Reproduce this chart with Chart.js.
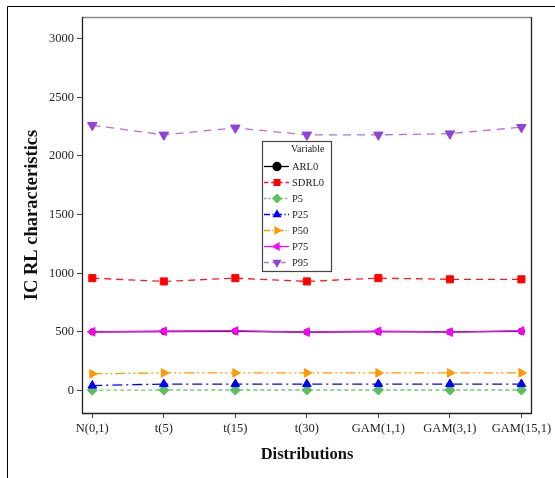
<!DOCTYPE html>
<html>
<head>
<meta charset="utf-8">
<script src="https://cdn.jsdelivr.net/npm/chart.js@4"></script>
<style>
html,body{margin:0;padding:0;background:#fff;}
#wrap{position:relative;width:555px;height:478px;}
canvas{display:block;}
</style>
</head>
<body>
<div id="wrap"><canvas id="c" width="555" height="478"></canvas></div>
<script>
const categories = ["N(0,1)","t(5)","t(15)","t(30)","GAM(1,1)","GAM(3,1)","GAM(15,1)"];
const yTicks = [0,500,1000,1500,2000,2500,3000];
const seriesNames = ["ARL0","SDRL0","P5","P25","P50","P75","P95"];
const ARL0  = [500, 503, 505, 498, 502, 499, 505];
const SDRL0 = [958, 930, 958, 930, 958, 948, 948];
const P5    = [3, 4, 4, 4, 4, 4, 4];
const P25   = [42, 55, 55, 55, 55, 55, 55];
const P50   = [142, 150, 150, 150, 150, 150, 150];
const P75   = [500, 505, 508, 498, 505, 498, 508];
const P95   = [2262, 2180, 2240, 2180, 2180, 2190, 2245];

const styles = {
  ARL0:  {line:'#000000', pt:'#000000', dash:[], ps:'circle', rot:0, r:3},
  SDRL0: {line:'#ff1a1a', pt:'#ff0000', dash:[7,5], ps:'rect', rot:0, r:5},
  P5:    {line:'#70c870', pt:'#5cbf5c', dash:[4,3], ps:'rectRot', rot:0, r:5},
  P25:   {line:'#0000ff', pt:'#0000ff', dash:[10,4,2,4], ps:'triangle', rot:0, r:5},
  P50:   {line:'#ff9900', pt:'#ff9900', dash:[10,3,2,3,2,3], ps:'triangle', rot:90, r:5},
  P75:   {line:'#ff00ff', pt:'#ff00ff', dash:[], ps:'triangle', rot:-90, r:5},
  P95:   {line:'#b36ee6', pt:'#8e44d6', dash:[8,6], ps:'triangle', rot:180, r:5.5}
};
const seriesData = {ARL0, SDRL0, P5, P25, P50, P75, P95};
const drawOrder = ["ARL0","SDRL0","P5","P25","P50","P75","P95"];

const datasets = drawOrder.map((name, idx) => {
  const s = styles[name];
  return {
    label: name,
    data: seriesData[name].map((v,i)=>({x:i,y:v})),
    borderColor: s.line,
    backgroundColor: s.pt,
    pointBackgroundColor: s.pt,
    pointBorderColor: s.pt,
    borderDash: s.dash,
    borderWidth: 1.3,
    pointStyle: s.ps,
    pointRotation: s.rot,
    pointRadius: s.r,
    pointBorderWidth: 1,
    tension: 0,
    order: drawOrder.length - idx
  };
});

const SERIF = "'Liberation Serif','DejaVu Serif',serif";

const framePlugin = {
  id:'frame',
  beforeDraw(chart){
    const ctx = chart.ctx;
    ctx.save();
    ctx.fillStyle='#fff';
    ctx.fillRect(0,0,chart.width,chart.height);
    ctx.strokeStyle='#000';
    ctx.lineWidth=1;
    ctx.beginPath();
    ctx.moveTo(7.5,478); ctx.lineTo(7.5,6.5); ctx.lineTo(555,6.5);
    ctx.stroke();
    ctx.restore();
  },
  afterDatasetsDraw(chart){
    const a = chart.chartArea, ctx = chart.ctx;
    ctx.save();
    ctx.lineWidth=1.3;
    ctx.strokeStyle='#888';
    ctx.beginPath();
    ctx.moveTo(a.left, a.top+0.5); ctx.lineTo(a.right, a.top+0.5);
    ctx.stroke();
    ctx.strokeStyle='#222';
    ctx.beginPath();
    ctx.moveTo(a.left+0.5, a.top); ctx.lineTo(a.left+0.5, a.bottom+0.5);
    ctx.lineTo(a.right-0.5, a.bottom+0.5); ctx.lineTo(a.right-0.5, a.top);
    ctx.stroke();
    ctx.restore();
  },
  afterDraw(chart){
    const ctx = chart.ctx;
    const bx=262, by=141, bw=69, bh=130;
    ctx.save();
    ctx.fillStyle='#fff';
    ctx.fillRect(bx,by,bw,bh);
    ctx.strokeStyle='#444';
    ctx.lineWidth=1.2;
    ctx.strokeRect(bx+0.5,by+0.5,bw,bh);
    ctx.fillStyle='#222';
    ctx.font="10px "+SERIF;
    ctx.textBaseline='middle';
    ctx.textAlign='left';
    ctx.fillText('Variable', 291, 149);
    ctx.font="10.5px "+SERIF;
    seriesNames.forEach((name,i)=>{
      const s = styles[name];
      const y = 166 + i*16;
      ctx.strokeStyle = s.line;
      ctx.lineWidth = 1.3;
      ctx.setLineDash(s.dash.map(d=>d*0.6));
      ctx.beginPath(); ctx.moveTo(264,y+0.5); ctx.lineTo(289,y+0.5); ctx.stroke();
      ctx.setLineDash([]);
      ctx.fillStyle = s.pt; ctx.strokeStyle = s.pt;
      Chart.helpers.drawPoint(ctx, {pointStyle:s.ps, rotation:s.rot, radius:4, borderWidth:1}, 277, y+0.5);
      ctx.fillStyle='#222';
      ctx.fillText(name, 292, y+1);
    });
    ctx.restore();
  }
};

new Chart(document.getElementById('c'), {
  type:'line',
  data:{datasets},
  plugins:[framePlugin],
  options:{
    responsive:false,
    animation:false,
    devicePixelRatio:1,
    layout:{padding:{left:0,right:23,top:17,bottom:0}},
    plugins:{legend:{display:false},tooltip:{enabled:false}},
    scales:{
      x:{
        type:'linear', min:-0.144, max:6.148,
        afterBuildTicks(s){ s.ticks = categories.map((c,i)=>({value:i})); },
        afterFit(s){ s.height = 65; },
        ticks:{ callback:(v)=>categories[v], color:'#222', font:{family:SERIF,size:12.5}, padding:3, maxRotation:0, autoSkip:false },
        grid:{display:true, drawOnChartArea:false, drawTicks:true, tickLength:5, color:'#444'},
        border:{display:false},
        title:{display:true, text:'Distributions', color:'#111', font:{family:SERIF,size:16.5,weight:'bold'}, padding:{top:0,bottom:13}}
      },
      y:{
        type:'linear', min:-192, max:3185,
        afterBuildTicks(s){ s.ticks = yTicks.map(v=>({value:v})); },
        afterFit(s){ s.width = 82; },
        ticks:{ callback:(v)=>String(v), color:'#222', font:{family:SERIF,size:12.5}, padding:3 },
        grid:{display:true, drawOnChartArea:false, drawTicks:true, tickLength:5, color:'#444'},
        border:{display:false},
        title:{display:true, text:'IC RL characteristics', color:'#111', font:{family:SERIF,size:18.5,weight:'bold'}, padding:{top:21,bottom:0}}
      }
    }
  }
});
</script>
</body>
</html>
